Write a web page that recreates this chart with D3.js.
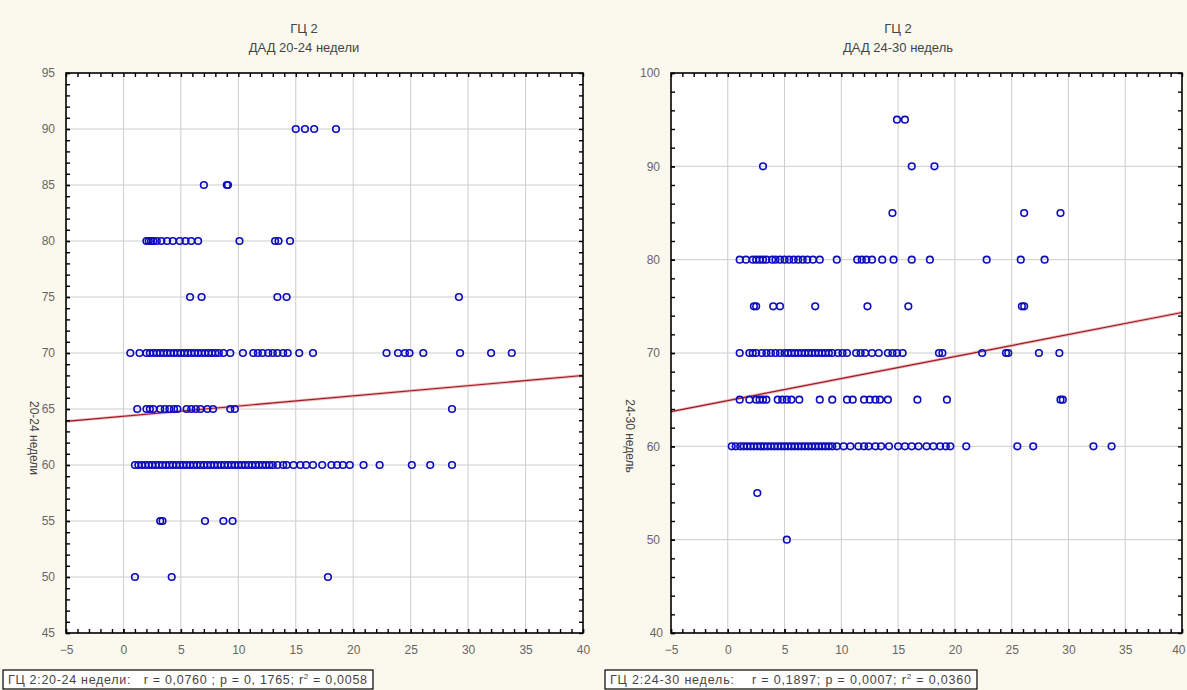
<!DOCTYPE html>
<html>
<head>
<meta charset="utf-8">
<script src="https://cdn.jsdelivr.net/npm/d3@7"></script>
<style>
body { margin: 0; background: #fbf9ee; }
svg { display: block; }
text { font-family: "Liberation Sans", Arial, sans-serif; fill: #444; }
</style>
</head>
<body>
<svg id="chart" width="1187" height="690"></svg>
<script>
// left panel: ДАД 20-24 недели, x values per blood pressure level
var leftLevels = [90, 85, 80, 75, 70, 65, 60, 55, 50];
var left90 = [15.0, 15.8, 16.6, 18.5];
var left85 = [7.0, 9.0, 9.1];
var left80 = [2.0, 2.2, 2.4, 2.6, 2.9, 3.3, 3.8, 4.3, 4.9, 5.4, 5.9, 6.5, 10.1, 13.2, 13.5, 14.5];
var left75 = [5.8, 6.8, 13.4, 14.2, 29.2];
var left70 = [0.6, 1.4, 2.0, 2.3, 2.6, 2.9, 3.2, 3.5, 3.8, 4.1, 4.4, 4.7, 5.0, 5.3, 5.6, 5.9, 6.2,
  6.5, 6.8, 7.1, 7.4, 7.7, 8.0, 8.3, 8.7, 9.3, 10.4, 11.3, 11.7, 12.1, 12.6, 13.0, 13.4, 13.9,
  14.3, 15.3, 16.5, 22.9, 23.9, 24.5, 24.9, 26.1, 29.3, 32.0, 33.8];
var left65 = [1.2, 2.0, 2.3, 2.6, 3.2, 3.6, 4.0, 4.4, 4.7, 5.5, 5.9, 6.3, 6.7, 7.3, 7.8, 9.3, 9.7, 28.6];
var left60 = [1.0, 1.3, 1.6, 1.9, 2.2, 2.5, 2.8, 3.1, 3.4, 3.7, 4.0, 4.3, 4.6, 4.9, 5.2, 5.5, 5.8,
  6.1, 6.4, 6.7, 7.0, 7.3, 7.6, 7.9, 8.2, 8.5, 8.8, 9.1, 9.4, 9.7, 10.0, 10.3, 10.6, 10.9, 11.2,
  11.5, 11.8, 12.1, 12.4, 12.7, 13.0, 13.4, 13.9, 14.2, 14.8, 15.4, 15.9, 16.5, 17.3, 18.1, 18.6,
  19.1, 19.7, 20.9, 22.3, 25.1, 26.7, 28.6];
var left55 = [3.2, 3.4, 7.1, 8.7, 9.5];
var left50 = [1.0, 4.2, 17.8];

// right panel: ДАД 24-30 недель
var rightLevels = [95, 90, 85, 80, 75, 70, 65, 60, 55, 50];
var right95 = [14.9, 15.6];
var right90 = [3.1, 16.2, 18.2];
var right85 = [14.5, 26.1, 29.3];
var right80 = [1.05, 1.6, 2.2, 2.5, 2.8, 3.1, 3.4, 3.9, 4.2, 4.6, 5.0, 5.4, 5.8, 6.2, 6.6, 7.0, 7.5,
  8.1, 9.6, 11.4, 11.8, 12.2, 12.7, 13.6, 14.6, 16.2, 17.8, 22.8, 25.8, 27.9];
var right75 = [2.3, 2.5, 4.0, 4.6, 7.7, 12.3, 15.9, 25.9, 26.1];
var right70 = [1.05, 1.9, 2.2, 2.5, 3.0, 3.4, 3.8, 4.2, 4.6, 5.0, 5.3, 5.6, 5.9, 6.2, 6.5, 6.8, 7.1,
  7.4, 7.7, 8.0, 8.3, 8.6, 8.9, 9.2, 9.7, 10.1, 10.5, 11.3, 11.7, 12.1, 12.7, 13.3, 14.1, 14.5,
  14.9, 15.4, 18.6, 18.9, 22.4, 24.5, 24.7, 27.4, 29.2];
var right65 = [1.05, 1.9, 2.5, 2.8, 3.1, 3.4, 4.4, 4.8, 5.2, 5.6, 6.3, 8.1, 9.2, 10.5, 11.0, 12.0,
  12.5, 13.0, 13.4, 14.1, 16.7, 19.3, 29.3, 29.5];
var right60 = [0.35, 0.7, 1.1, 1.4, 1.7, 2.0, 2.3, 2.6, 2.9, 3.2, 3.5, 3.8, 4.1, 4.4, 4.7, 5.0, 5.3,
  5.6, 5.9, 6.2, 6.5, 6.8, 7.1, 7.4, 7.7, 8.0, 8.3, 8.6, 8.9, 9.2, 9.6, 10.2, 10.8, 11.5, 12.0,
  12.4, 13.0, 13.5, 14.2, 15.0, 15.6, 16.2, 16.8, 17.5, 18.1, 18.7, 19.2, 19.6, 21.0, 25.5, 26.9,
  32.2, 33.8];
var right55 = [2.6];
var right50 = [5.2];

// regression lines (intercept, slope)
var leftFit = [64.35, 0.091];
var rightFit = [64.9, 0.236];

var xTicks = [-5, 0, 5, 10, 15, 20, 25, 30, 35, 40];
var leftYTicks = [45, 50, 55, 60, 65, 70, 75, 80, 85, 90, 95];
var rightYTicks = [40, 50, 60, 70, 80, 90, 100];

function toPoints(levels, lists) {
  var pts = [];
  levels.forEach(function (lv, i) {
    lists[i].forEach(function (x) { pts.push([x, lv]); });
  });
  return pts;
}

var leftPoints = toPoints(leftLevels, [left90, left85, left80, left75, left70, left65, left60, left55, left50]);
var rightPoints = toPoints(rightLevels, [right95, right90, right85, right80, right75, right70, right65, right60, right55, right50]);

var svg = d3.select("#chart");

function drawPanel(opt) {
  var x = d3.scaleLinear().domain([-5, 40]).range([opt.left, opt.right]);
  var y = d3.scaleLinear().domain(opt.yDomain).range([633, 73]);
  var g = svg.append("g");

  g.append("rect").attr("x", opt.left).attr("y", 73)
    .attr("width", opt.right - opt.left).attr("height", 560).attr("fill", "#fff");

  // grid
  g.selectAll("line.gx").data(xTicks.slice(1, -1)).enter().append("line")
    .attr("x1", x).attr("x2", x).attr("y1", 73).attr("y2", 633)
    .attr("stroke", "#cccccc").attr("stroke-width", 1);
  g.selectAll("line.gy").data(opt.yTicks.slice(1, -1)).enter().append("line")
    .attr("y1", y).attr("y2", y).attr("x1", opt.left).attr("x2", opt.right)
    .attr("stroke", "#cccccc").attr("stroke-width", 1);

  // regression line
  g.append("line")
    .attr("x1", x(-5)).attr("y1", y(opt.fit[0] + opt.fit[1] * -5))
    .attr("x2", x(40)).attr("y2", y(opt.fit[0] + opt.fit[1] * 40))
    .attr("stroke", "#f0b8b8").attr("stroke-width", 3);
  g.append("line")
    .attr("x1", x(-5)).attr("y1", y(opt.fit[0] + opt.fit[1] * -5))
    .attr("x2", x(40)).attr("y2", y(opt.fit[0] + opt.fit[1] * 40))
    .attr("stroke", "#9b1b2a").attr("stroke-width", 1.2);

  // points
  g.selectAll("circle").data(opt.points).enter().append("circle")
    .attr("cx", function (d) { return x(d[0]); })
    .attr("cy", function (d) { return y(d[1]); })
    .attr("r", 3.3).attr("fill", "none")
    .attr("stroke", "#0c0cbe").attr("stroke-width", 1.6);

  // axes with inward ticks on all sides
  var minorX = d3.range(-5, 40.01, 1);
  var minorY = d3.range(opt.yDomain[0], opt.yDomain[1] + 0.01, opt.yMinor);
  g.append("g").attr("transform", "translate(0,633)")
    .call(d3.axisBottom(x).tickValues(xTicks).tickSize(-4).tickPadding(12).tickFormat(d3.format("d")));
  g.append("g").attr("transform", "translate(0,633)")
    .call(d3.axisBottom(x).tickValues(minorX).tickSize(-4).tickFormat(""));
  g.append("g").attr("transform", "translate(0,73)")
    .call(d3.axisTop(x).tickValues(minorX).tickSize(-4).tickFormat(""));
  g.append("g").attr("transform", "translate(" + opt.left + ",0)")
    .call(d3.axisLeft(y).tickValues(opt.yTicks).tickSize(-4).tickPadding(11).tickFormat(d3.format("d")));
  g.append("g").attr("transform", "translate(" + opt.left + ",0)")
    .call(d3.axisLeft(y).tickValues(minorY).tickSize(-4).tickFormat(""));
  g.append("g").attr("transform", "translate(" + opt.right + ",0)")
    .call(d3.axisRight(y).tickValues(minorY).tickSize(-4).tickFormat(""));

  g.selectAll(".domain").remove();
  g.selectAll(".tick line").attr("stroke", "#000").attr("stroke-width", 1.4);
  g.selectAll(".tick text").style("font-size", "12px").style("fill", "#666")
    .style("font-family", "'Liberation Sans', Arial, sans-serif");
  // keep the last x label inside the page
  g.selectAll(".tick text").filter(function (d) { return d === 40 && opt.right > 1100; })
    .attr("text-anchor", "end").attr("dx", "3");

  g.append("rect").attr("x", opt.left).attr("y", 73)
    .attr("width", opt.right - opt.left).attr("height", 560)
    .attr("fill", "none").attr("stroke", "#000").attr("stroke-width", 1.6);

  // titles
  g.append("text").attr("x", opt.titleX).attr("y", 33).attr("text-anchor", "middle")
    .style("font-size", "13px").text("ГЦ 2");
  g.append("text").attr("x", opt.titleX).attr("y", 52).attr("text-anchor", "middle")
    .style("font-size", "13px").text(opt.title);

  g.append("text").attr("transform", "translate(" + opt.ylabX + "," + opt.ylabY + ") rotate(90)")
    .attr("text-anchor", "middle").style("font-size", "12px").text(opt.ylab);

  // stats box
  var box = g.append("g").attr("transform", "translate(" + opt.boxX + ",670)");
  box.append("rect").attr("width", opt.boxW).attr("height", 19)
    .attr("fill", "#fff").attr("stroke", "#000").attr("stroke-width", 1.2);
  var t = box.append("text").attr("x", 5).attr("y", 14).style("font-size", "12.5px")
    .style("white-space", "pre")
    .attr("textLength", opt.boxW - 11).attr("lengthAdjust", "spacing");
  t.append("tspan").text(opt.stat[0]);
  t.append("tspan").attr("dy", -5).style("font-size", "8px").text("2");
  t.append("tspan").attr("dy", 5).text(opt.stat[1]);
}

drawPanel({
  left: 66, right: 583, yDomain: [45, 95], yTicks: leftYTicks, yMinor: 1,
  points: leftPoints, fit: leftFit, title: "ДАД 20-24 недели", titleX: 304,
  ylab: "20-24 недели", ylabX: 30, ylabY: 438,
  boxX: 3, boxW: 370, stat: ["ГЦ 2:20-24 недели:   r = 0,0760 ; p = 0, 1765; r", " = 0,0058"]
});
drawPanel({
  left: 671, right: 1182, yDomain: [40, 100], yTicks: rightYTicks, yMinor: 2,
  points: rightPoints, fit: rightFit, title: "ДАД 24-30 недель", titleX: 898,
  ylab: "24-30 недель", ylabX: 626, ylabY: 436,
  boxX: 605, boxW: 372, stat: ["ГЦ 2:24-30 недель:    r = 0,1897; p = 0,0007; r", " = 0,0360"]
});
</script>
</body>
</html>
